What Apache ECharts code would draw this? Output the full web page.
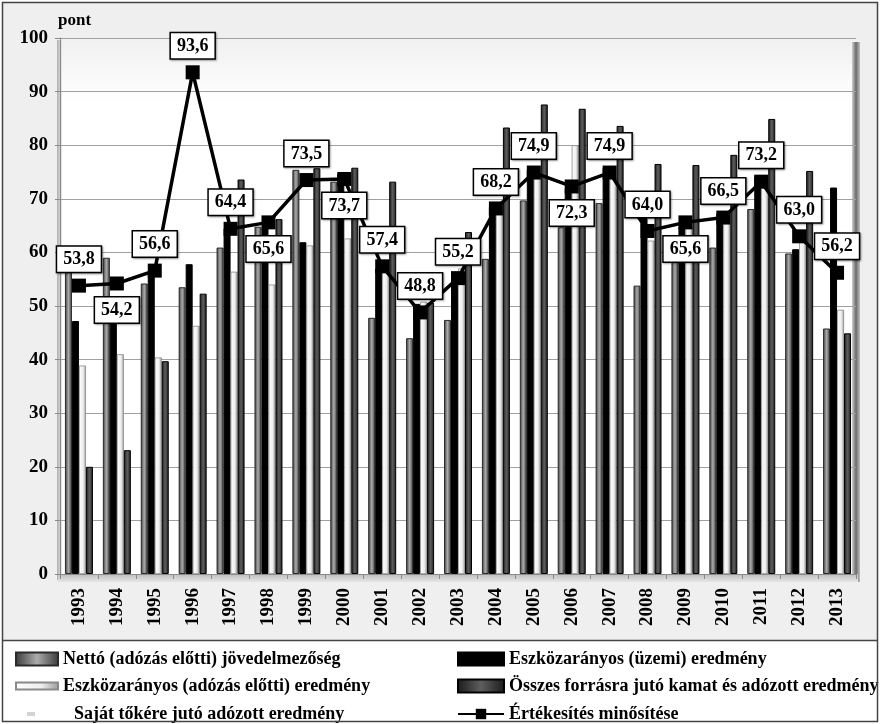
<!DOCTYPE html>
<html>
<head>
<meta charset="utf-8">
<script src="https://cdn.jsdelivr.net/npm/echarts@6/dist/echarts.min.js"></script>
<style>
  html, body { margin: 0; padding: 0; background: #ffffff; }
  #chart { width: 880px; height: 724px; }
</style>
</head>
<body>
<div id="chart"></div>
<script>
// Years on the category axis
const years = ['1993','1994','1995','1996','1997','1998','1999','2000','2001','2002','2003',
               '2004','2005','2006','2007','2008','2009','2010','2011','2012','2013'];

// Component scores (pont)
const netto        = [56.7, 59.0, 54.2, 53.5, 60.9, 64.8, 75.4, 73.2, 47.8, 44.0, 47.4,
                      58.8, 69.7, 64.7, 69.2, 53.8, 62.0, 60.9, 68.1, 59.8, 45.8];
const uzemi        = [47.2, 50.0, 56.3, 57.8, 64.5, 64.5, 61.9, 74.6, 57.0, 50.4, 55.6,
                      68.5, 75.5, 72.0, 75.8, 66.4, 64.8, 67.3, 74.2, 60.6, 72.1];
const adozasElotti = [38.9, 41.0, 40.4, 46.3, 56.4, 54.0, 61.3, 62.6, 58.5, 50.8, 57.0,
                      67.8, 74.5, 80.0, 74.0, 62.2, 65.0, 66.6, 73.3, 63.5, 49.3];
const osszes       = [20.0, 23.1, 39.7, 52.3, 73.6, 66.2, 75.7, 75.8, 73.2, 50.6, 63.8,
                      83.3, 87.6, 86.8, 83.6, 76.5, 76.3, 78.2, 84.9, 75.2, 44.9];
const sajatToke    = [];

// Overall sales rating (line)
const ertekesites  = [53.8, 54.2, 56.6, 93.6, 64.4, 65.6, 73.5, 73.7, 57.4, 48.8, 55.2,
                      68.2, 74.9, 72.3, 74.9, 64.0, 65.6, 66.5, 73.2, 63.0, 56.2];

// Y axis range
const yMin = 0, yMax = 100, yStep = 10;

// Series names (legend)
const names = {
  netto: 'Nettó (adózás előtti) jövedelmezőség',
  uzemi: 'Eszközarányos (üzemi) eredmény',
  adozas: 'Eszközarányos (adózás előtti) eredmény',
  osszes: 'Összes forrásra jutó kamat és adózott eredmény',
  sajat: 'Saját tőkére jutó adózott eredmény',
  ert: 'Értékesítés minősítése'
};

// Years whose value box sits below the marker
const labelsBelow = new Set(['1994','1998','2000','2006','2009']);

const SERIF = '"Liberation Serif", "DejaVu Serif", serif';

function hGrad(stops) {
  return new echarts.graphic.LinearGradient(0, 0, 1, 0,
    stops.map(s => ({ offset: s[0], color: s[1] })));
}

const chart = echarts.init(document.getElementById('chart'), null, { renderer: 'canvas' });

const legendText = { fontFamily: SERIF, fontWeight: 'bold', fontSize: 18, color: '#000' };

// one legend entry per slot of the 2-column legend box
function legendItem(name, left, top, w, h, extra) {
  return Object.assign({
    left: left, top: top, itemWidth: w, itemHeight: h, itemGap: 0, icon: 'rect',
    textStyle: legendText, data: [name]
  }, extra || {});
}

const option = {
  backgroundColor: '#ffffff',
  animation: false,
  graphic: [
    // page background above the legend
    { type: 'rect', z: -20, shape: { x: 2, y: 2, width: 876, height: 638 },
      style: { fill: '#efefef' } },
    // plot wall
    { type: 'rect', z: -15, shape: { x: 60, y: 38, width: 796, height: 536 },
      style: { fill: new echarts.graphic.LinearGradient(0, 0, 0, 1, [
        { offset: 0, color: '#f0f0f0' }, { offset: 0.12, color: '#ffffff' }, { offset: 1, color: '#ffffff' }]) } },
    // left side of the wall
    { type: 'rect', z: -14, shape: { x: 57, y: 40, width: 5, height: 540 },
      style: { fill: hGrad([[0, '#b0b0b0'], [1, '#e8e8e8']]) } },
    // right shadow of the wall
    { type: 'rect', z: -14, shape: { x: 852, y: 42, width: 8, height: 540 },
      style: { fill: hGrad([[0, '#d0d0d0'], [0.5, '#6a6a6a'], [1, '#c0c0c0']]) } },
    // floor
    { type: 'rect', z: -14, shape: { x: 58, y: 574, width: 800, height: 8 },
      style: { fill: new echarts.graphic.LinearGradient(0, 0, 0, 1, [
        { offset: 0, color: '#bdbdbd' }, { offset: 1, color: '#e6e6e6' }]) } },
    // frame and legend box
    { type: 'rect', z: 10, shape: { x: 2.5, y: 2.5, width: 875, height: 719 },
      style: { fill: 'none', stroke: '#444', lineWidth: 1.5 } },
    { type: 'line', z: 10, shape: { x1: 2.5, y1: 640.5, x2: 877.5, y2: 640.5 },
      style: { stroke: '#444', lineWidth: 1.5 } },
    // unit
    { type: 'text', z: 10, left: 58, top: 12,
      style: { text: 'pont', font: 'bold 17px ' + SERIF, fill: '#000' } }
  ],
  grid: { left: 60, right: 24, top: 38, bottom: 150, containLabel: false },
  legend: [
    legendItem(names.netto, 10, 645, 42, 13),
    legendItem(names.adozas, 10, 672, 42, 7),
    legendItem(names.sajat, 22, 700, 8, 4, { textStyle: Object.assign({}, legendText, { padding: [0, 0, 0, 34] }) }),
    legendItem(names.uzemi, 452, 645, 46, 13),
    legendItem(names.osszes, 452, 672, 46, 13),
    legendItem(names.ert, 452, 700, 46, 13, { icon: null })
  ],
  xAxis: {
    type: 'category',
    data: years,
    axisLine: { lineStyle: { color: '#8a8a8a', width: 1 } },
    axisTick: { show: true, length: 5, lineStyle: { color: '#8a8a8a' } },
    axisLabel: { rotate: 90, margin: 14, fontFamily: SERIF, fontWeight: 'bold', fontSize: 19, color: '#000' }
  },
  yAxis: {
    type: 'value', min: yMin, max: yMax, interval: yStep,
    axisLine: { show: true, lineStyle: { color: '#8a8a8a' } },
    axisTick: { show: true, length: 5, lineStyle: { color: '#8a8a8a' } },
    axisLabel: { margin: 12, fontFamily: SERIF, fontWeight: 'bold', fontSize: 19, color: '#000' },
    splitLine: { lineStyle: { color: '#a0a0a0', width: 1.2 } }
  },
  series: [
    { name: names.netto, type: 'bar', data: netto, barWidth: 7, barGap: '0%',
      itemStyle: { color: hGrad([[0, '#3a3a3a'], [0.5, '#ababab'], [1, '#3a3a3a']]), borderColor: '#2a2a2a', borderWidth: 1 } },
    { name: names.uzemi, type: 'bar', data: uzemi, barWidth: 7, barGap: '0%',
      itemStyle: { color: '#000000', borderColor: '#000', borderWidth: 1 } },
    { name: names.adozas, type: 'bar', data: adozasElotti, barWidth: 7, barGap: '0%',
      itemStyle: { color: hGrad([[0, '#ffffff'], [0.6, '#eeeeee'], [1, '#9a9a9a']]), borderColor: '#8a8a8a', borderWidth: 0.8 } },
    { name: names.osszes, type: 'bar', data: osszes, barWidth: 7, barGap: '0%',
      itemStyle: { color: hGrad([[0, '#1a1a1a'], [0.5, '#5e5e5e'], [1, '#1a1a1a']]), borderColor: '#000', borderWidth: 1 } },
    { name: names.sajat, type: 'scatter', data: sajatToke, symbol: 'rect',
      itemStyle: { color: '#c8c8c8' } },
    { name: names.ert, type: 'line', z: 5,
      data: ertekesites.map((v, i) => ({
        value: v,
        label: { position: labelsBelow.has(years[i]) ? 'bottom' : 'top' }
      })),
      symbol: 'rect', symbolSize: 14,
      lineStyle: { color: '#000', width: 3.5 },
      itemStyle: { color: '#000' },
      label: {
        show: true, distance: 7,
        formatter: p => p.value.toFixed(1).replace('.', ','),
        fontFamily: SERIF, fontWeight: 'bold', fontSize: 18, color: '#000',
        backgroundColor: '#fff', borderColor: '#000', borderWidth: 1.5,
        padding: [4, 6, 3, 6],
        shadowColor: 'rgba(0,0,0,0.35)', shadowBlur: 2, shadowOffsetX: 1, shadowOffsetY: 1
      }
    }
  ]
};

chart.setOption(option);
</script>
</body>
</html>
